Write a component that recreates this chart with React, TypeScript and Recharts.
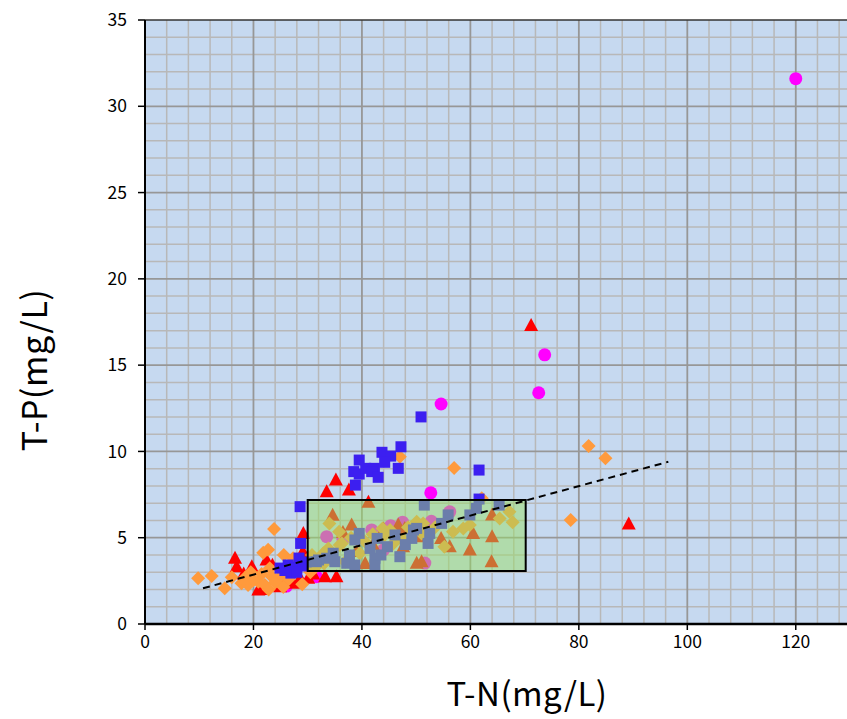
import React from 'react';
import {
  ScatterChart,
  Scatter,
  XAxis,
  YAxis,
  CartesianGrid,
  ReferenceLine,
  ReferenceArea,
  Label,
} from 'recharts';

const xTicks = [0, 20, 40, 60, 80, 100, 120];
const yTicks = [0, 5, 10, 15, 20, 25, 30, 35];
const xMinor = [4, 8, 12, 16, 24, 28, 32, 36, 44, 48, 52, 56, 64, 68, 72, 76, 84, 88, 92, 96, 104, 108, 112, 116, 124, 128];
const yMinor = [1, 2, 3, 4, 6, 7, 8, 9, 11, 12, 13, 14, 16, 17, 18, 19, 21, 22, 23, 24, 26, 27, 28, 29, 31, 32, 33, 34];

const magentaData = [
  { x: 120, y: 31.6 }, { x: 73.7, y: 15.6 }, { x: 72.6, y: 13.4 }, { x: 54.6, y: 12.75 },
  { x: 52.7, y: 7.6 }, { x: 33.5, y: 5.06 }, { x: 56.2, y: 6.5 }, { x: 51.6, y: 3.53 },
  { x: 52.8, y: 5.95 }, { x: 41.8, y: 5.45 }, { x: 45.3, y: 5.7 }, { x: 31.6, y: 2.74 },
  { x: 26.1, y: 2.2 }, { x: 47.5, y: 5.9 }, { x: 36.5, y: 4.9 }, { x: 44, y: 4.3 },
];

const redData = [
  { x: 71.2, y: 17.3 }, { x: 89.2, y: 5.8 }, { x: 35.2, y: 8.34 }, { x: 33.5, y: 7.67 },
  { x: 37.6, y: 7.76 }, { x: 29.2, y: 5.25 }, { x: 29.1, y: 4.19 }, { x: 16.6, y: 3.81 },
  { x: 16.9, y: 3.32 }, { x: 19.7, y: 3.32 }, { x: 22.4, y: 3.71 }, { x: 20.9, y: 1.97 },
  { x: 24.9, y: 2.16 }, { x: 27.3, y: 2.36 }, { x: 35.3, y: 2.74 }, { x: 33.2, y: 2.74 },
  { x: 28.6, y: 2.65 }, { x: 30.1, y: 2.65 }, { x: 22, y: 2.2 }, { x: 26, y: 2.5 },
  { x: 31, y: 2.9 }, { x: 21.5, y: 2.0 }, { x: 23.5, y: 3.4 }, { x: 18.2, y: 2.9 },
  { x: 41.2, y: 7.05 }, { x: 34.6, y: 6.3 }, { x: 38.1, y: 5.74 }, { x: 46.7, y: 5.74 },
  { x: 47.9, y: 5.54 }, { x: 47.6, y: 4.48 }, { x: 40.6, y: 3.5 }, { x: 50.1, y: 3.52 },
  { x: 64.0, y: 6.32 }, { x: 60.5, y: 5.25 }, { x: 64.0, y: 5.06 }, { x: 54.6, y: 4.96 },
  { x: 56.2, y: 4.48 }, { x: 59.9, y: 4.29 }, { x: 63.9, y: 3.61 }, { x: 51.0, y: 3.61 },
  { x: 50.4, y: 5.06 }, { x: 36.5, y: 5.3 }, { x: 44, y: 5.5 }, { x: 42, y: 4.6 },
  { x: 39, y: 4.2 }, { x: 33, y: 4.0 },
];

const orangeData = [
  { x: 81.8, y: 10.31 }, { x: 84.9, y: 9.6 }, { x: 78.5, y: 6.03 }, { x: 57.0, y: 9.04 },
  { x: 47.0, y: 9.69 }, { x: 23.8, y: 5.5 }, { x: 9.8, y: 2.65 }, { x: 12.3, y: 2.78 },
  { x: 14.7, y: 2.07 }, { x: 16.0, y: 2.71 }, { x: 21.8, y: 4.13 }, { x: 25.6, y: 4.0 },
  { x: 17.8, y: 2.36 }, { x: 19.0, y: 2.26 }, { x: 20.9, y: 2.45 }, { x: 23.0, y: 3.23 },
  { x: 23.4, y: 2.74 }, { x: 22.1, y: 2.26 }, { x: 24.9, y: 2.74 }, { x: 26.1, y: 3.13 },
  { x: 27.3, y: 3.81 }, { x: 20.0, y: 2.55 }, { x: 18.5, y: 2.7 }, { x: 21.5, y: 2.9 },
  { x: 24, y: 2.4 }, { x: 26.5, y: 2.6 }, { x: 29, y: 2.3 }, { x: 30.5, y: 3.0 },
  { x: 22.8, y: 2.0 }, { x: 25.5, y: 2.15 }, { x: 19.5, y: 3.0 }, { x: 22.7, y: 4.3 },
  { x: 62.1, y: 7.28 },
  { x: 34.0, y: 5.83 }, { x: 35.8, y: 5.35 }, { x: 43.8, y: 5.54 }, { x: 45.2, y: 5.45 },
  { x: 35.9, y: 4.58 }, { x: 33.8, y: 4.38 }, { x: 32.9, y: 4.1 }, { x: 45.8, y: 4.67 },
  { x: 47.6, y: 4.87 }, { x: 39.6, y: 4.1 }, { x: 36.9, y: 3.61 }, { x: 44.2, y: 5.16 },
  { x: 67.2, y: 6.5 }, { x: 67.8, y: 5.89 }, { x: 65.4, y: 6.12 }, { x: 58.7, y: 5.54 },
  { x: 59.9, y: 5.74 }, { x: 56.8, y: 5.35 }, { x: 55.2, y: 4.48 }, { x: 51.3, y: 5.83 },
  { x: 50.1, y: 5.93 }, { x: 51.0, y: 5.25 }, { x: 36.3, y: 4.67 }, { x: 31.5, y: 3.3 },
  { x: 33, y: 3.5 }, { x: 40.5, y: 4.8 }, { x: 42, y: 5.2 }, { x: 48.5, y: 5.6 },
  { x: 30.8, y: 4.0 }, { x: 38, y: 5.0 }, { x: 53.5, y: 5.6 },
];

const blueData = [
  { x: 50.9, y: 12.0 }, { x: 47.2, y: 10.27 }, { x: 43.7, y: 9.95 }, { x: 45.3, y: 9.73 },
  { x: 44.2, y: 9.37 }, { x: 46.7, y: 9.02 }, { x: 39.5, y: 9.5 }, { x: 38.5, y: 8.83 },
  { x: 39.5, y: 8.69 }, { x: 40.7, y: 9.02 }, { x: 42.3, y: 9.02 }, { x: 41.8, y: 8.83 },
  { x: 43.0, y: 8.5 }, { x: 38.8, y: 8.05 }, { x: 28.6, y: 6.8 }, { x: 61.6, y: 8.92 },
  { x: 61.6, y: 7.24 }, { x: 28.7, y: 4.67 },
  { x: 24.9, y: 3.24 }, { x: 26.4, y: 3.42 }, { x: 27.8, y: 3.3 }, { x: 29.1, y: 3.36 },
  { x: 28.4, y: 3.82 }, { x: 29.7, y: 3.59 }, { x: 26.9, y: 2.95 }, { x: 25.8, y: 3.1 },
  { x: 28.0, y: 3.0 },
  { x: 39.5, y: 5.25 }, { x: 38.7, y: 4.87 }, { x: 42.8, y: 4.96 }, { x: 41.5, y: 4.38 },
  { x: 44.7, y: 4.48 }, { x: 47.0, y: 3.9 }, { x: 49.5, y: 5.45 }, { x: 49.2, y: 4.96 },
  { x: 37.7, y: 4.0 }, { x: 37.2, y: 3.52 }, { x: 34.7, y: 4.1 }, { x: 35.0, y: 3.61 },
  { x: 33.5, y: 3.81 }, { x: 32.0, y: 3.71 }, { x: 42.4, y: 3.81 }, { x: 42.4, y: 3.42 },
  { x: 38.7, y: 3.42 }, { x: 51.5, y: 6.89 }, { x: 55.9, y: 6.32 }, { x: 54.7, y: 5.83 },
  { x: 59.9, y: 6.32 }, { x: 61.1, y: 6.7 }, { x: 65.3, y: 6.89 }, { x: 52.5, y: 5.25 },
  { x: 52.2, y: 4.67 }, { x: 50.1, y: 5.54 }, { x: 46.1, y: 5.16 }, { x: 31.6, y: 3.61 },
  { x: 48.0, y: 4.6 }, { x: 43.5, y: 4.0 },
];

const boxRange = { x1: 30, x2: 70.2, y1: 3.07, y2: 7.18 };
const trendLine = [{ x: 10.7, y: 2.07 }, { x: 96.5, y: 9.4 }];

const BLUE = '#3c1ff0';
const RED = '#ff0000';
const ORANGE = '#ff9a3c';
const MAGENTA = '#ff00ff';

const SquareShape = (p: any) => (
  <rect x={p.cx - 5.5} y={p.cy - 5.5} width={11} height={11} fill={BLUE} />
);
const TriangleShape = (p: any) => (
  <polygon
    points={`${p.cx},${p.cy - 7.5} ${p.cx + 7},${p.cy + 5.5} ${p.cx - 7},${p.cy + 5.5}`}
    fill={RED}
  />
);
const DiamondShape = (p: any) => (
  <polygon
    points={`${p.cx},${p.cy - 7} ${p.cx + 7},${p.cy} ${p.cx},${p.cy + 7} ${p.cx - 7},${p.cy}`}
    fill={ORANGE}
  />
);
const CircleShape = (p: any) => <circle cx={p.cx} cy={p.cy} r={6.5} fill={MAGENTA} />;

const tickFont = { fontFamily: "'Noto Sans CJK JP', 'Noto Sans', sans-serif", fontSize: 17.5, fill: '#000' };
const titleFont = "'Noto Sans CJK JP', 'Noto Sans', sans-serif";

export default function App() {
  return (
    <div style={{ position: 'absolute', left: 0, top: 0, width: 847, height: 719, overflow: 'hidden', background: '#fff' }}>
      <ScatterChart width={853} height={719} margin={{ top: 20, right: 3, left: 0, bottom: 35 }}>
        <CartesianGrid fill="#c6d9f0" stroke="#999999" strokeWidth={1.8} horizontal={false} vertical={false} />
        {xMinor.map((v) => (
          <ReferenceLine key={'xm' + v} x={v} stroke="#b8b8b8" strokeWidth={1.5} zIndex={-60} />
        ))}
        {yMinor.map((v) => (
          <ReferenceLine key={'ym' + v} y={v} stroke="#b8b8b8" strokeWidth={1.5} zIndex={-60} />
        ))}
        {xTicks.slice(1).map((v) => (
          <ReferenceLine key={'xM' + v} x={v} stroke="#979797" strokeWidth={1.8} zIndex={-55} />
        ))}
        {yTicks.slice(1, -1).map((v) => (
          <ReferenceLine key={'yM' + v} y={v} stroke="#979797" strokeWidth={1.8} zIndex={-55} />
        ))}
        <ReferenceLine y={35} stroke="#333" strokeWidth={1.5} zIndex={-50} />
        <XAxis
          type="number"
          dataKey="x"
          domain={[0, 130]}
          ticks={xTicks}
          allowDataOverflow
          height={60}
          tick={tickFont}
          tickSize={6}
          tickMargin={6}
          axisLine={{ stroke: '#000', strokeWidth: 2.5 }}
          tickLine={{ stroke: '#000', strokeWidth: 1.5 }}
        >
          <Label
            content={() => (
              <text x={527} y={706} textAnchor="middle" fontFamily={titleFont} fontSize={33} letterSpacing={0.5} fill="#000">
                T-N(mg/L)
              </text>
            )}
          />
        </XAxis>
        <YAxis
          type="number"
          dataKey="y"
          domain={[0, 35]}
          ticks={yTicks}
          allowDataOverflow
          width={145}
          tick={tickFont}
          tickSize={7}
          tickMargin={11}
          axisLine={{ stroke: '#000', strokeWidth: 2 }}
          tickLine={{ stroke: '#000', strokeWidth: 1.5 }}
        >
          <Label
            content={() => (
              <text
                x={47}
                y={370}
                transform="rotate(-90 47 370)"
                textAnchor="middle"
                fontFamily={titleFont}
                fontSize={34}
                letterSpacing={0.5}
                fill="#000"
              >
                T-P(mg/L)
              </text>
            )}
          />
        </YAxis>
        <Scatter data={magentaData} shape={CircleShape} isAnimationActive={false} />
        <Scatter data={redData} shape={TriangleShape} isAnimationActive={false} />
        <Scatter data={orangeData} shape={DiamondShape} isAnimationActive={false} />
        <Scatter data={blueData} shape={SquareShape} isAnimationActive={false} />
        <ReferenceArea
          x1={boxRange.x1}
          x2={boxRange.x2}
          y1={boxRange.y1}
          y2={boxRange.y2}
          fill="#99dd66"
          fillOpacity={0.5}
          stroke="#000"
          strokeWidth={2}
          zIndex={700}
        />
        <ReferenceLine
          segment={trendLine}
          stroke="#000"
          strokeWidth={2}
          strokeDasharray="7 5"
          zIndex={710}
        />
      </ScatterChart>
    </div>
  );
}
